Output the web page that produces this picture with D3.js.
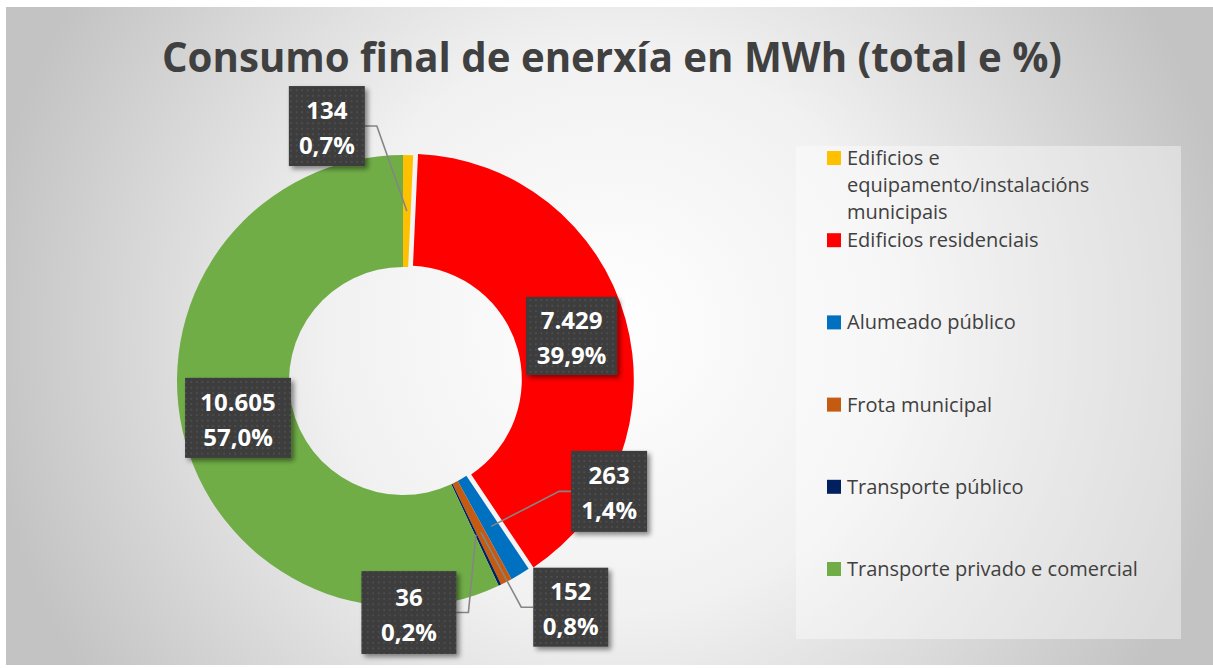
<!DOCTYPE html>
<html lang="gl">
<head>
<meta charset="UTF-8">
<title>Consumo final de enerxía en MWh</title>
<script src="https://cdn.jsdelivr.net/npm/d3@7"></script>
<style>
  body { margin: 0; background: #fff; }
  svg { display: block; }
</style>
</head>
<body>
<svg id="chart" width="1213" height="668"></svg>
<script>
// data
const categories = [
  "Edificios e equipamento/instalacións municipais",
  "Edificios residenciais",
  "Alumeado público",
  "Frota municipal",
  "Transporte público",
  "Transporte privado e comercial"
];
const values = [134, 7429, 263, 152, 36, 10605];
const colors = ["#FFC000", "#FF0000", "#0070C0", "#C55A11", "#002060", "#70AD47"];
const valueLabels = ["134", "7.429", "263", "152", "36", "10.605"];
const percentLabels = ["0,7%", "39,9%", "1,4%", "0,8%", "0,2%", "57,0%"];
const titleText = "Consumo final de enerxía en MWh (total e %)";

// label box placement relative to slice centroid
const labelLayout = [
  {dx: -80, dy: -85, w: 76, h: 80},
  {dx: 0, dy: 2, w: 91, h: 78},
  {dx: 118, dy: -35, w: 76, h: 81},
  {dx: 90, dy: 75, w: 75, h: 79},
  {dx: -67, dy: 78, w: 95, h: 83},
  {dx: 1, dy: 0, w: 106, h: 80}
];
const explode = [0, 5, 0, 0, 0, 0];

const W = 1213, H = 668;
const cx = 403, cy = 381, outerR = 226, innerR = 114;

const svg = d3.select("#chart");
const defs = svg.append("defs");

// background gradient
const bg = defs.append("radialGradient").attr("id", "bgGrad")
  .attr("gradientUnits", "userSpaceOnUse")
  .attr("cx", 610).attr("cy", 330).attr("r", 630);
bg.selectAll("stop").data([
  {o: "0%", c: "#ffffff"}, {o: "45%", c: "#f1f1f1"}, {o: "100%", c: "#c3c3c3"}
]).enter().append("stop").attr("offset", d => d.o).attr("stop-color", d => d.c);

// dotted texture for the data label boxes
const pat = defs.append("pattern").attr("id", "dots")
  .attr("patternUnits", "userSpaceOnUse").attr("width", 5.5).attr("height", 5.5);
pat.append("rect").attr("width", 5.5).attr("height", 5.5).attr("fill", "#3d3d3d");
pat.append("circle").attr("cx", 2.75).attr("cy", 2.75).attr("r", 0.9).attr("fill", "#545454");

const shadow = defs.append("filter").attr("id", "shadow")
  .attr("x", "-20%").attr("y", "-20%").attr("width", "150%").attr("height", "150%");
shadow.append("feDropShadow").attr("dx", 3).attr("dy", 3).attr("stdDeviation", 2.5)
  .attr("flood-color", "#000").attr("flood-opacity", 0.45);

svg.append("rect").attr("x", 6).attr("y", 7).attr("width", W - 6).attr("height", H - 10)
  .attr("fill", "url(#bgGrad)");

// title
svg.append("text")
  .attr("x", 612).attr("y", 72)
  .attr("text-anchor", "middle")
  .attr("font-family", "'Open Sans', sans-serif")
  .attr("font-weight", 700)
  .attr("font-size", 41)
  .attr("fill", "#404040")
  .attr("textLength", 900)
  .attr("lengthAdjust", "spacingAndGlyphs")
  .text(titleText);

// donut
const pie = d3.pie().sort(null).value(d => d);
const arcs = pie(values);
const arc = d3.arc().innerRadius(innerR).outerRadius(outerR);
const midArc = d3.arc().innerRadius((innerR + outerR) / 2).outerRadius((innerR + outerR) / 2);

const g = svg.append("g").attr("transform", `translate(${cx},${cy})`);
g.selectAll("path.slice").data(arcs).enter().append("path")
  .attr("class", "slice")
  .attr("fill", (d, i) => colors[i])
  .attr("transform", (d, i) => {
    const a = (d.startAngle + d.endAngle) / 2;
    return `translate(${explode[i] * Math.sin(a)},${-explode[i] * Math.cos(a)})`;
  })
  .attr("d", arc);

// labels
const labels = arcs.map((d, i) => {
  const a = (d.startAngle + d.endAngle) / 2;
  const c = midArc.centroid(d);
  const ax = c[0] + explode[i] * Math.sin(a), ay = c[1] - explode[i] * Math.cos(a);
  const L = labelLayout[i];
  return {i, ax, ay, bx: ax + L.dx, by: ay + L.dy, w: L.w, h: L.h};
});

// leader lines for boxes away from their slice
const leader = g.append("g");
labels.forEach(l => {
  const far = Math.abs(l.bx - l.ax) > l.w / 2 || Math.abs(l.by - l.ay) > l.h / 2;
  if (!far) return;
  const side = l.bx > l.ax ? -1 : 1;
  const edgeX = l.bx + side * l.w / 2;
  const elbowX = edgeX + side * 12;
  leader.append("path")
    .attr("d", d3.line()([[l.ax, l.ay], [elbowX, l.by], [edgeX, l.by]]))
    .attr("fill", "none").attr("stroke", "#858585").attr("stroke-width", 1.6);
});

const box = g.selectAll("g.lbl").data(labels).enter().append("g")
  .attr("class", "lbl")
  .attr("transform", d => `translate(${d.bx},${d.by})`);
box.append("rect")
  .attr("x", d => -d.w / 2).attr("y", d => -d.h / 2)
  .attr("width", d => d.w).attr("height", d => d.h)
  .attr("fill", "url(#dots)")
  .attr("filter", "url(#shadow)");
box.append("text")
  .attr("y", -7)
  .attr("text-anchor", "middle")
  .attr("font-family", "'Open Sans', sans-serif").attr("font-weight", 700)
  .attr("font-size", 24).attr("fill", "#fff")
  .text(d => valueLabels[d.i]);
box.append("text")
  .attr("y", 28)
  .attr("text-anchor", "middle")
  .attr("font-family", "'Open Sans', sans-serif").attr("font-weight", 700)
  .attr("font-size", 24).attr("fill", "#fff")
  .text(d => percentLabels[d.i]);

// legend
svg.append("rect").attr("x", 796).attr("y", 146).attr("width", 385).attr("height", 493)
  .attr("fill", "#ffffff").attr("fill-opacity", 0.4);

const ly = d3.scaleLinear().domain([0, categories.length - 1]).range([165, 576]);
const leg = svg.append("g").attr("font-family", "'Open Sans', sans-serif")
  .attr("font-size", 20).attr("fill", "#404040");

categories.forEach((name, i) => {
  const item = leg.append("g").attr("transform", `translate(827,${ly(i)})`);
  item.append("rect").attr("x", 0).attr("y", -14).attr("width", 14).attr("height", 14)
    .attr("fill", colors[i]);
  const t = item.append("text").attr("x", 20).attr("y", 0);
  // wrap long names
  const words = name.split(" ");
  let line = [];
  let tspan = t.append("tspan").attr("x", 20).attr("dy", 0);
  words.forEach(w => {
    line.push(w);
    tspan.text(line.join(" "));
    if (tspan.node().getComputedTextLength() > 312 && line.length > 1) {
      line.pop();
      tspan.text(line.join(" "));
      line = [w];
      tspan = t.append("tspan").attr("x", 20).attr("dy", 27).text(w);
    }
  });
});
</script>
</body>
</html>
